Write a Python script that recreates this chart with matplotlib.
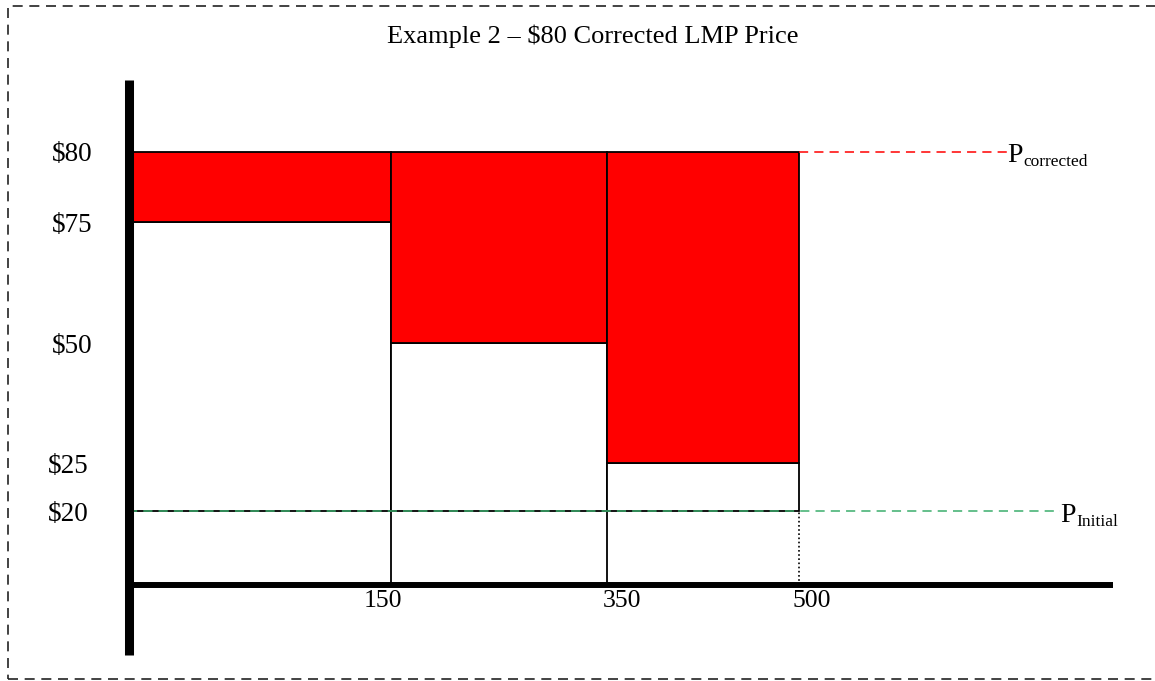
import numpy as np
import matplotlib
matplotlib.use("Agg")
import matplotlib.pyplot as plt
from matplotlib.patches import Rectangle
from matplotlib.transforms import ScaledTranslation

plt.rcParams["font.family"] = ["Liberation Serif", "DejaVu Serif"]

# ---- data -------------------------------------------------------------
title = "Example 2 \u2013 $80 Corrected LMP Price"
seg_start = [0, 150, 350]          # MW where each offer block starts
seg_end = [150, 350, 500]          # MW where each offer block ends
offer_price = [75, 50, 25]         # offer price of each block ($)
price_corrected = 80               # corrected LMP ($)
price_initial = 20                 # initial LMP ($)
y_ticks = [80, 75, 50, 25, 20]
y_tick_labels = ["$80", "$75", "$50", "$25", "$20"]
x_ticks = [150, 350, 500]
x_tick_labels = ["150", "350", "500"]

# ---- schematic (piecewise-linear) axis scales -------------------------
X_KNOTS = np.array([0, 150, 350, 500, 1500])
X_PIX = np.array([128.5, 391, 607, 799, 799 + 1000 * 1.28])
Y_KNOTS = np.array([-200, 0, 20, 25, 50, 75, 80, 300])
Y_PIX = np.array([585 + 200 * 3.7, 585, 511, 463, 343, 222, 151.5, 151.5 - 220 * 14.5])


def fx(v):
    return np.interp(v, X_KNOTS, X_PIX)


def fx_inv(p):
    return np.interp(p, X_PIX, X_KNOTS)


def fy(v):
    return -np.interp(v, Y_KNOTS, Y_PIX)


def fy_inv(p):
    return np.interp(-np.asarray(p), Y_PIX[::-1], Y_KNOTS[::-1])


W, H = 1155, 681
fig = plt.figure(figsize=(W / 100, H / 100), dpi=100)
ax_left, ax_right, ax_top, ax_bottom = 128.5, 1113, 80, 655
ax = fig.add_axes([ax_left / W, 1 - ax_bottom / H,
                   (ax_right - ax_left) / W, (ax_bottom - ax_top) / H])
ax.set_xscale("function", functions=(fx, fx_inv))
ax.set_yscale("function", functions=(fy, fy_inv))
ax.set_xlim(fx_inv(ax_left), fx_inv(ax_right))
ax.set_ylim(fy_inv(-ax_bottom), fy_inv(-ax_top))
ax.patch.set_visible(False)

# ---- offer blocks ------------------------------------------------------
starts = np.array(seg_start)
widths = np.array(seg_end) - starts
offers = np.array(offer_price)

ax.bar(starts, offers - price_initial, bottom=price_initial, width=widths,
       align="edge", color="white", edgecolor="black", linewidth=1.3, zorder=2)
ax.bar(starts, price_corrected - offers, bottom=offers, width=widths,
       align="edge", color="#ff0000", edgecolor="black", linewidth=1.3, zorder=2)

# block boundaries below the initial price
ax.vlines(seg_end[:-1], 0, price_initial, color="black", linewidth=1.3, zorder=2)
ax.vlines(seg_end[-1], 0, price_initial, color="black", linewidth=1.2,
          linestyles=(0, (1, 1.5)), zorder=2)

# ---- price levels -------------------------------------------------------
x_corr_label = 663
x_init_label = 704
ax.plot([seg_end[-1], x_corr_label], [price_corrected] * 2, color="#ff0000",
        linewidth=1.1, linestyle=(0, (6, 4)), zorder=3)
ax.plot([0, x_init_label], [price_initial] * 2, color="#3aae6c",
        linewidth=1.1, linestyle=(0, (6, 4)), zorder=3)


def price_label(x, y, sub, drop):
    p = ax.annotate("P", xy=(x, y), xytext=(0, drop), textcoords="offset points",
                    ha="left", va="baseline", fontsize=20, zorder=4)
    ax.annotate(sub, xy=(1, 0), xycoords=p, xytext=(0.3, -1.5),
                textcoords="offset points", ha="left", va="bottom",
                fontsize=12.5, zorder=4)


price_label(x_corr_label, price_corrected, "corrected", -7.5)
price_label(x_init_label, price_initial, "Initial", -8)

# ---- axes ---------------------------------------------------------------
for side in ("top", "right"):
    ax.spines[side].set_visible(False)
ax.spines["left"].set_linewidth(6.5)
ax.spines["left"].set_capstyle("butt")
ax.spines["bottom"].set_position(("data", 0))
ax.spines["bottom"].set_linewidth(4.3)
ax.spines["bottom"].set_capstyle("butt")
ax.spines["left"].set_zorder(5)
ax.spines["bottom"].set_zorder(5)

ax.set_yticks(y_ticks, y_tick_labels)
ax.set_xticks(x_ticks, x_tick_labels)
ax.minorticks_off()
ax.tick_params(axis="y", length=0, pad=26, labelsize=19.5)
ax.tick_params(axis="x", length=0, pad=3.5, labelsize=18.5)

x_label_shift = [-8, 15, 13]
for lab, dx in zip(ax.get_xticklabels(), x_label_shift):
    lab.set_transform(lab.get_transform() + ScaledTranslation(dx / 100, 0, fig.dpi_scale_trans))
y_label_shift = [0, 0, 0, -4, -4]
for lab, dx in zip(ax.get_yticklabels(), y_label_shift):
    lab.set_transform(lab.get_transform() + ScaledTranslation(dx / 100, 0, fig.dpi_scale_trans))

# ---- title and frame -----------------------------------------------------
fig.text(593 / W, 1 - 36 / H, title, ha="center", va="center", fontsize=19)
frame = Rectangle((7.5 / W, 1 - 679 / H), 1.05, (679 - 6) / H,
                  transform=fig.transFigure, fill=False, edgecolor="#222222",
                  linewidth=1.2, linestyle=(0, (6, 4)), clip_on=False)
fig.add_artist(frame)

fig.savefig("out.png", dpi=100)
